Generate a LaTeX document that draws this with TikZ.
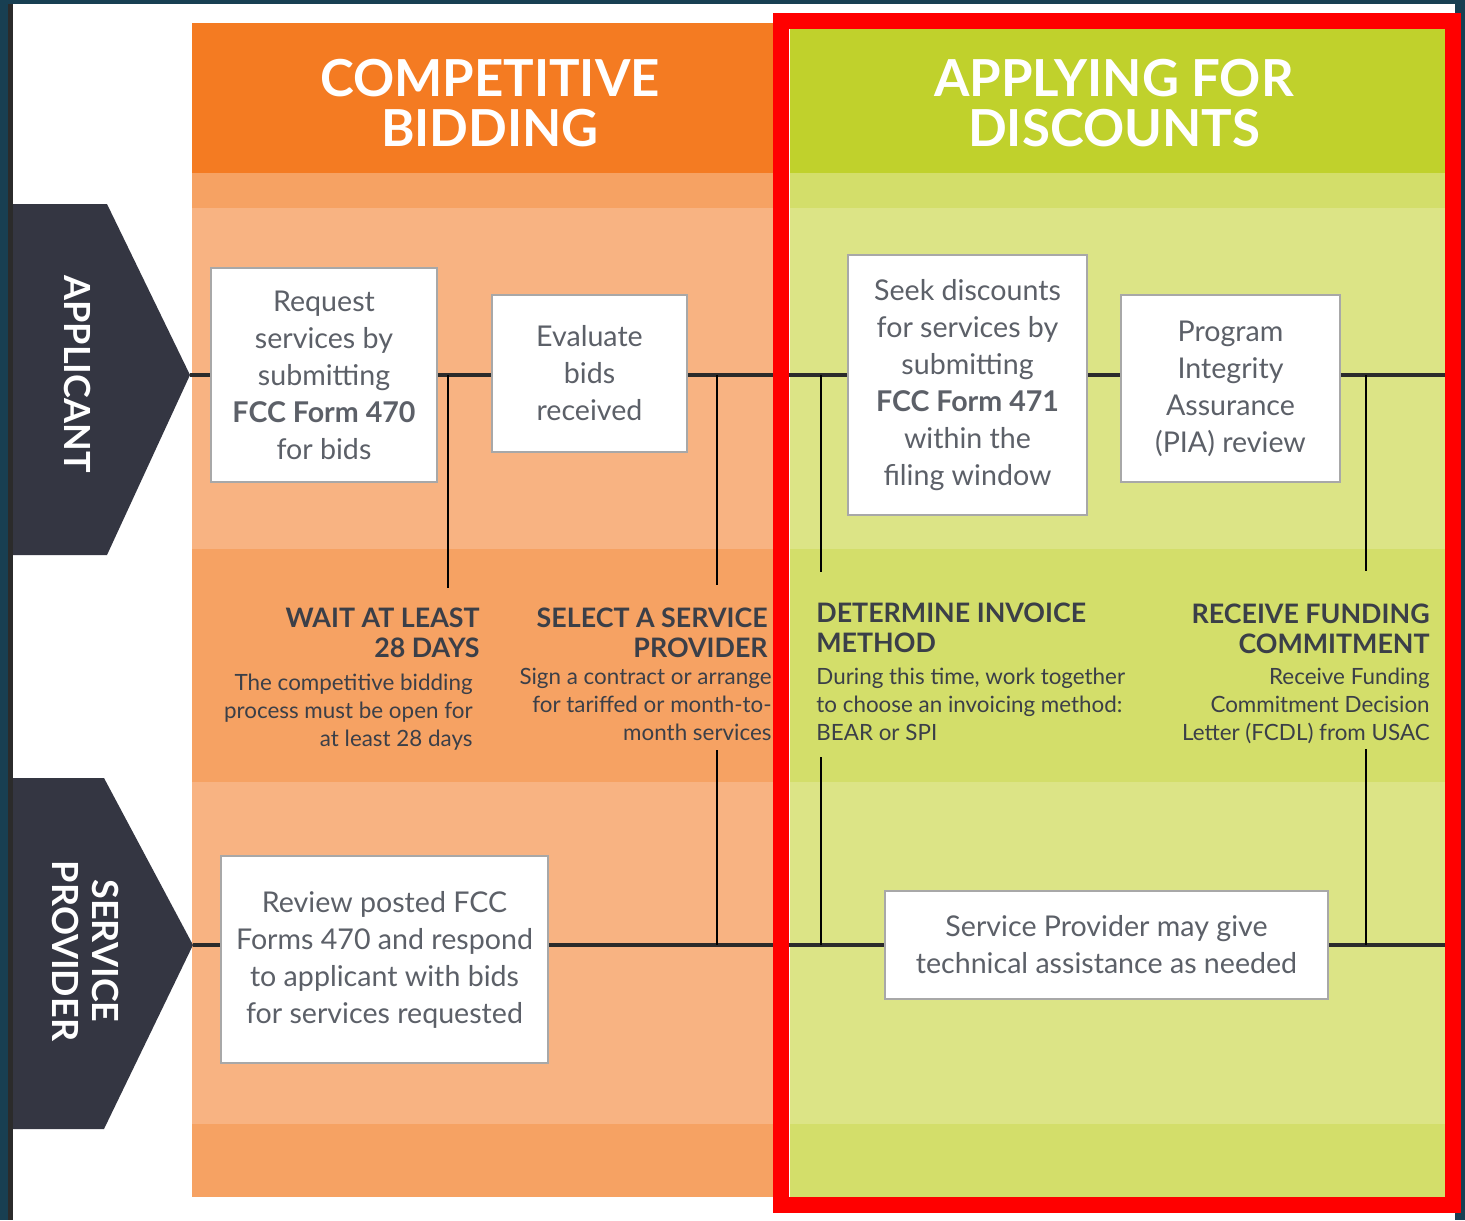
\documentclass[tikz,border=0pt]{standalone}
\usepackage{fontspec}
\setmainfont{Lato}
\usetikzlibrary{positioning,calc}
\definecolor{frameteal}{HTML}{183F52}
\definecolor{framegrey}{HTML}{2B2B2B}
\definecolor{bidhead}{HTML}{F47B22}
\definecolor{bidmid}{HTML}{F6A263}
\definecolor{bidlight}{HTML}{F8B382}
\definecolor{dischead}{HTML}{C0D12C}
\definecolor{discmid}{HTML}{D3DE6A}
\definecolor{disclight}{HTML}{DCE486}
\definecolor{lanedark}{HTML}{343642}
\definecolor{inkdark}{HTML}{3B3F48}
\definecolor{inkgrey}{HTML}{5C6068}
\definecolor{boxedge}{HTML}{A8A8A8}
\definecolor{markred}{HTML}{FF0000}
\tikzset{
  stepbox/.style={draw=boxedge, line width=1pt, fill=white, inner sep=0pt,
    text=inkgrey, align=center, font=\fontsize{14.3}{18.5}\selectfont},
  colhead/.style={text=white, align=center, inner sep=0pt,
    font=\fontsize{25.5}{25}\selectfont\bfseries},
  lanelabel/.style={text=white, align=center, inner sep=0pt, rotate=-90,
    font=\fontsize{18}{20}\selectfont\bfseries},
  milestone/.style={text=inkdark, inner sep=0pt,
    font=\fontsize{13.4}{15}\selectfont\bfseries},
  note/.style={text=inkdark, inner sep=0pt,
    font=\fontsize{11.2}{14}\selectfont},
  rail/.style={draw=framegrey, line width=2pt},
  tick/.style={draw=black, line width=1.2pt}
}
\begin{document}
\begin{tikzpicture}[x=0.5pt, y=-0.5pt]
\useasboundingbox (0,0) rectangle (1465,1220);
% page and frame
\fill[frameteal] (0,0) rectangle (1465,1220);
\fill[white] (13,4) rectangle (1455,1220);
\fill[framegrey] (8,4) rectangle (13,1220);

% column bands
\fill[bidhead] (192,23) rectangle (781,173);
\fill[bidmid] (192,173) rectangle (781,208);
\fill[bidlight] (192,208) rectangle (781,549);
\fill[bidmid] (192,549) rectangle (781,782);
\fill[bidlight] (192,782) rectangle (781,1124);
\fill[bidmid] (192,1124) rectangle (781,1197);
\fill[dischead] (790,23) rectangle (1445,173);
\fill[discmid] (790,173) rectangle (1445,208);
\fill[disclight] (790,208) rectangle (1445,549);
\fill[discmid] (790,549) rectangle (1445,782);
\fill[disclight] (790,782) rectangle (1445,1124);
\fill[discmid] (790,1124) rectangle (1445,1197);

\node[colhead] (bidTitle) at (490,103) {COMPETITIVE\\BIDDING};
\node[colhead] (discTitle) at (1114,103) {APPLYING FOR\\DISCOUNTS};

% swim lanes
\fill[lanedark] (13,204) -- (107,204) -- (190,375) -- (107,555) -- (13,555) -- cycle;
\fill[lanedark] (13,778) -- (104,778) -- (193,945) -- (104,1129) -- (13,1129) -- cycle;
\node[lanelabel] (appLabel) at (78,374) {APPLICANT};
\node[lanelabel] (spLabel) at (86,951) {SERVICE\\PROVIDER};
\coordinate (appTip) at (190,375);
\coordinate (spTip) at (193,945);
\coordinate (appEnd) at (1445,375);
\coordinate (spEnd) at (1445,945);

% steps
\node[stepbox, minimum width=113pt, minimum height=107pt] (req) at (324,375)
  {Request\\services by\\submitting\\\textbf{FCC Form 470}\\for bids};
\node[stepbox, minimum width=97.5pt, minimum height=78.5pt] (eval) at (589.5,373.5)
  {Evaluate\\bids\\received};
\node[stepbox, minimum width=119.5pt, minimum height=130pt] (seek) at (967.5,385)
  {Seek discounts\\for services by\\submitting\\\textbf{FCC Form 471}\\within the\\filing window};
\node[stepbox, minimum width=109.5pt, minimum height=93.5pt] (pia) at (1230.5,388.5)
  {Program\\Integrity\\Assurance\\(PIA) review};
\node[stepbox, minimum width=163.5pt, minimum height=103.5pt] (review) at (384.5,959.5)
  {Review posted FCC\\Forms 470 and respond\\to applicant with bids\\for services requested};
\node[stepbox, minimum width=221.5pt, minimum height=54pt] (assist) at (1106.5,945)
  {Service Provider may give\\technical assistance as needed};

% milestones
\node[milestone, align=right, anchor=north east] (wait) at (480,608) {WAIT AT LEAST\\28 DAYS};
\node[note, align=right, anchor=north east] (waitNote) at (473,674)
  {The competitive bidding\\process must be open for\\at least 28 days};
\node[milestone, align=right, anchor=north east] (select) at (768,608) {SELECT A SERVICE\\PROVIDER};
\node[note, align=right, anchor=north east] (selectNote) at (772,668)
  {Sign a contract or arrange\\for tariffed or month-to-\\month services};
\node[milestone, align=left, anchor=north west] (invoice) at (816,602) {DETERMINE INVOICE\\METHOD};
\node[note, align=left, anchor=north west] (invoiceNote) at (816,668)
  {During this time, work together\\to choose an invoicing method:\\BEAR or SPI};
\node[milestone, align=right, anchor=north east] (funding) at (1430,603) {RECEIVE FUNDING\\COMMITMENT};
\node[note, align=right, anchor=north east] (fundingNote) at (1430,668)
  {Receive Funding\\Commitment Decision\\Letter (FCDL) from USAC};

% rails
\draw[rail] (appTip) -- (req.west |- appTip);
\draw[rail] (req.east |- appTip) -- (eval.west |- appTip);
\draw[rail] (eval.east |- appTip) -- (seek.west |- appTip);
\draw[rail] (seek.east |- appTip) -- (pia.west |- appTip);
\draw[rail] (pia.east |- appTip) -- (appEnd);
\draw[rail] (spTip) -- (review.west |- spTip);
\draw[rail] (review.east |- spTip) -- (assist.west |- spTip);
\draw[rail] (assist.east |- spTip) -- (spEnd);

% ticks down to the milestones
\coordinate (waitTop) at (448,375);    \coordinate (waitEnd) at (448,588);
\coordinate (selectTop) at (717,375);  \coordinate (selectEnd) at (717,585);
\coordinate (selectLow) at (717,750);  \coordinate (selectRail) at (717,945);
\coordinate (invoiceTop) at (821,375); \coordinate (invoiceEnd) at (821,572);
\coordinate (invoiceLow) at (821,757); \coordinate (invoiceRail) at (821,945);
\coordinate (fundingTop) at (1366,375); \coordinate (fundingEnd) at (1366,571);
\coordinate (fundingLow) at (1366,749); \coordinate (fundingRail) at (1366,945);
\draw[tick] (waitTop) -- (waitEnd);
\draw[tick] (selectTop) -- (selectEnd);
\draw[tick] (selectLow) -- (selectRail);
\draw[tick] (invoiceTop) -- (invoiceEnd);
\draw[tick] (invoiceLow) -- (invoiceRail);
\draw[tick] (fundingTop) -- (fundingEnd);
\draw[tick] (fundingLow) -- (fundingRail);

% highlight frame
\draw[markred, line width=8pt] (781,21) rectangle (1453,1204.5);
\end{tikzpicture}
\end{document}
